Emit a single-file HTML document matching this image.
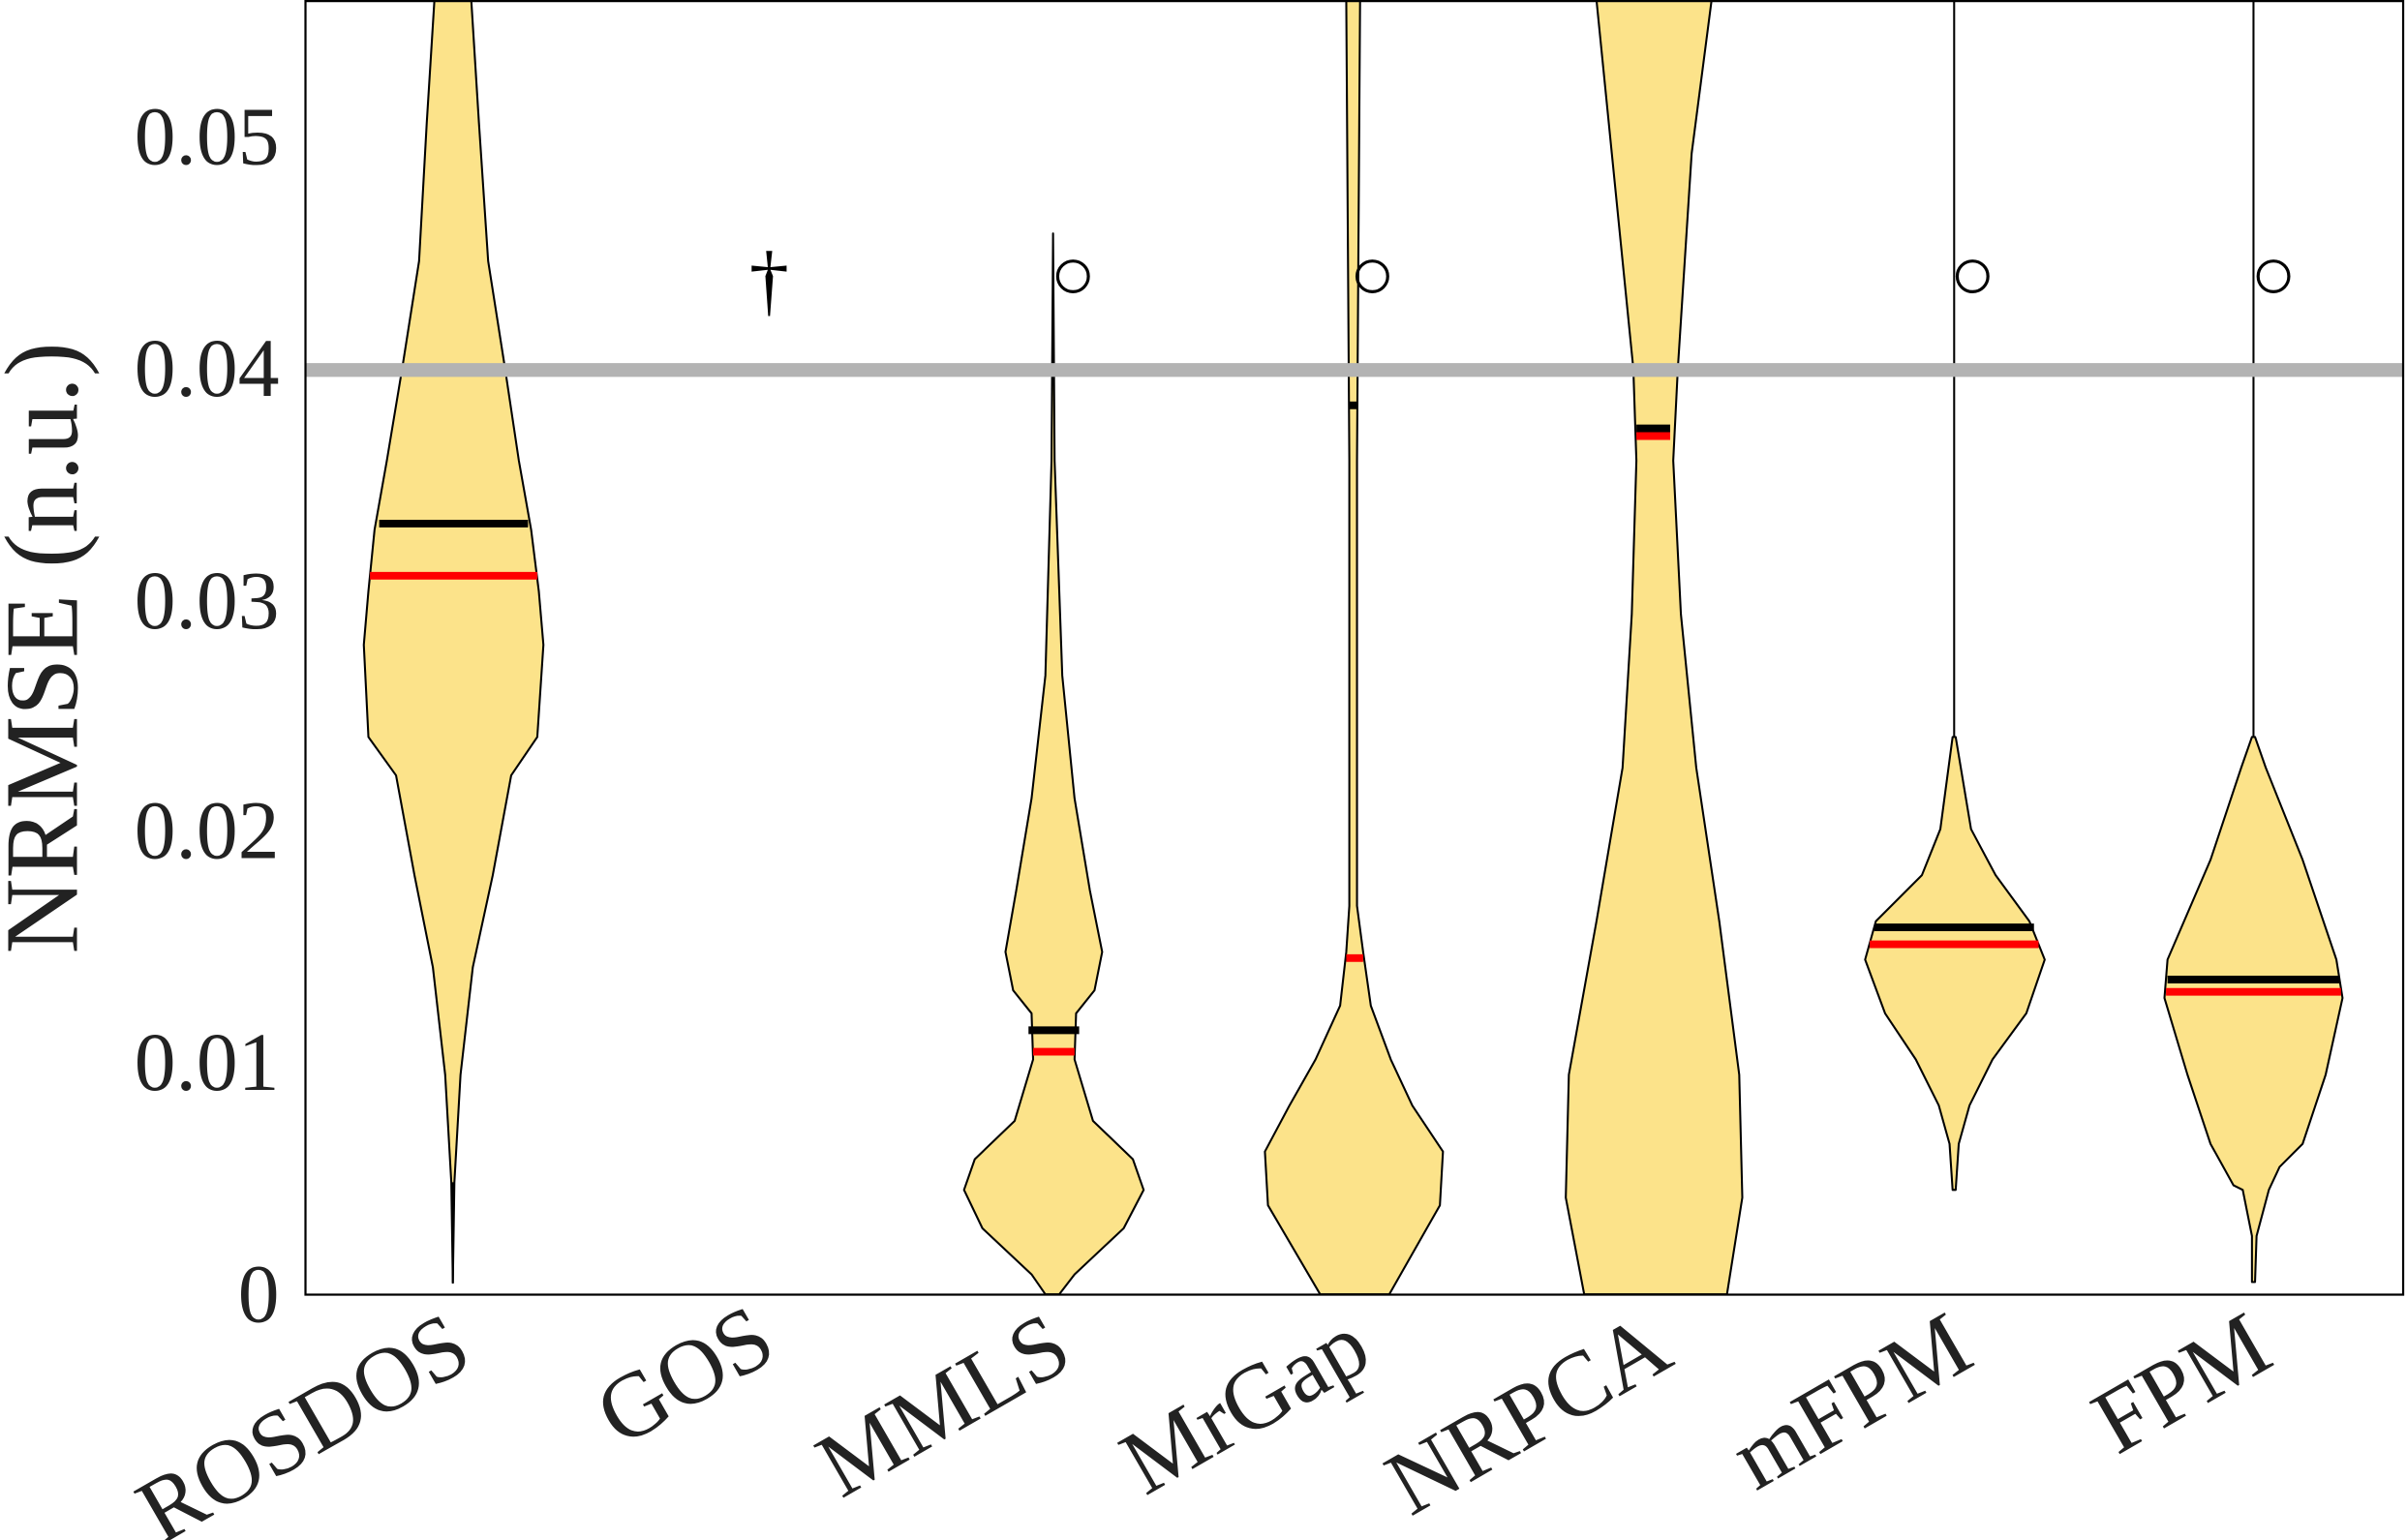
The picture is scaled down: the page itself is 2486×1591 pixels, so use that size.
<!DOCTYPE html>
<html><head><meta charset="utf-8"><style>html,body{margin:0;padding:0;background:#fff}svg{display:block}</style></head>
<body>
<svg width="2486" height="1591" viewBox="0 0 1568 1003" preserveAspectRatio="none" xmlns="http://www.w3.org/2000/svg" font-family="'Liberation Serif', serif">
<rect width="1568" height="1003" fill="#fff"/>
<g fill="#fce38a" stroke="#000" stroke-width="1.3" stroke-linejoin="round">
<path d="M283,0 L278,80 L273,170 L262,240 L252,300 L244,345 L240,385 L237,420 L240,480 L258,505 L270,570 L282,630 L290,700 L294,770 L295,835 L296,770 L300,700 L308,630 L321,570 L333,505 L350,480 L354,420 L351,385 L346,345 L338,300 L329,240 L318,170 L312,80 L307,0 Z"/>
<path d="M686,152 L685,300 L681,440 L672,520 L662,580 L655,620 L660,645 L672,660 L673,690 L661,730 L635,755 L628,775 L640,800 L672,830 L681,843 L690,843 L700,830 L732,800 L745,775 L738,755 L712,730 L700,690 L701,660 L713,645 L718,620 L710,580 L700,520 L692,440 L687,300 Z"/>
<path d="M877,0 L879,300 L879,590 L877,620 L873,655 L857,690 L840,720 L824,750 L826,785 L860,843 L905,843 L938,785 L940,750 L920,720 L906,690 L893,655 L888,620 L884,590 L884,300 L886,0 Z"/>
<path d="M1040,0 L1050,100 L1064,240 L1066,300 L1063,400 L1057,500 L1040,600 L1022,700 L1020,780 L1032,843 L1125,843 L1135,780 L1133,700 L1120,600 L1105,500 L1095,400 L1090,300 L1093,240 L1102,100 L1115,0 Z"/>
<path d="M1272,480 L1264,540 L1252,570 L1222,600 L1215,625 L1228,660 L1248,690 L1263,720 L1270,745 L1272,775 L1274,775 L1276,745 L1283,720 L1298,690 L1320,660 L1332,625 L1322,600 L1300,570 L1284,540 L1274,480 Z"/>
<path d="M1467,480 L1460,500 L1440,560 L1412,625 L1410,650 L1425,700 L1440,745 L1455,772 L1461,775 L1467,805 L1467,835 L1469,835 L1470,805 L1478,775 L1485,760 L1500,745 L1515,700 L1526,650 L1522,625 L1500,560 L1476,500 L1469,480 Z"/>
</g>
<g stroke="#000" stroke-width="1.3">
<line x1="295" y1="770" x2="295" y2="836"/>
<line x1="1273" y1="0" x2="1273" y2="480"/>
<line x1="1468" y1="0" x2="1468" y2="480"/>
</g>
<g stroke-width="5">
<line x1="247" y1="341" x2="344" y2="341" stroke="#000"/>
<line x1="241" y1="375" x2="350" y2="375" stroke="#f00"/>
<line x1="670" y1="671" x2="703" y2="671" stroke="#000"/>
<line x1="673" y1="685" x2="700" y2="685" stroke="#f00"/>
<line x1="879" y1="264" x2="884" y2="264" stroke="#000"/>
<line x1="877" y1="624" x2="888" y2="624" stroke="#f00"/>
<line x1="1066" y1="279" x2="1088" y2="279" stroke="#000"/>
<line x1="1066" y1="284" x2="1088" y2="284" stroke="#f00"/>
<line x1="1221" y1="604" x2="1325" y2="604" stroke="#000"/>
<line x1="1218" y1="615" x2="1328" y2="615" stroke="#f00"/>
<line x1="1412" y1="638" x2="1524" y2="638" stroke="#000"/>
<line x1="1411" y1="646" x2="1525" y2="646" stroke="#f00"/>
</g>
<line x1="199" y1="241" x2="1566" y2="241" stroke="#b3b3b3" stroke-width="9"/>
<g fill="none" stroke="#000" stroke-width="2">
<circle cx="699" cy="180" r="10"/><circle cx="894" cy="180" r="10"/><circle cx="1285" cy="180" r="10"/><circle cx="1481" cy="180" r="10"/>
</g>
<text x="501" y="200" font-size="52" text-anchor="middle" fill="#000">†</text>
<rect x="199" y="0.7" width="1366.5" height="842.5" fill="none" stroke="#000" stroke-width="1.4"/>
<g font-size="54" fill="#222" text-anchor="end">
<text x="182" y="861">0</text>
<text x="182" y="710">0.01</text>
<text x="182" y="559">0.02</text>
<text x="182" y="409">0.03</text>
<text x="182" y="258">0.04</text>
<text x="182" y="107">0.05</text>
</g>
<text transform="translate(50,422) rotate(-90)" font-size="68" fill="#222" text-anchor="middle">NRMSE (n.u.)</text>
<g font-size="60" fill="#222" text-anchor="end">
<text transform="translate(310,888) rotate(-30)">ROSDOS</text>
<text transform="translate(508,883) rotate(-30)">GOS</text>
<text transform="translate(701,888) rotate(-30)">MMLS</text>
<text transform="translate(896,888) rotate(-30)">MrGap</text>
<text transform="translate(1092,888) rotate(-30)">NRPCA</text>
<text transform="translate(1288,888) rotate(-30)">mFPM</text>
<text transform="translate(1483,888) rotate(-30)">FPM</text>
</g>
</svg>
</body></html>
